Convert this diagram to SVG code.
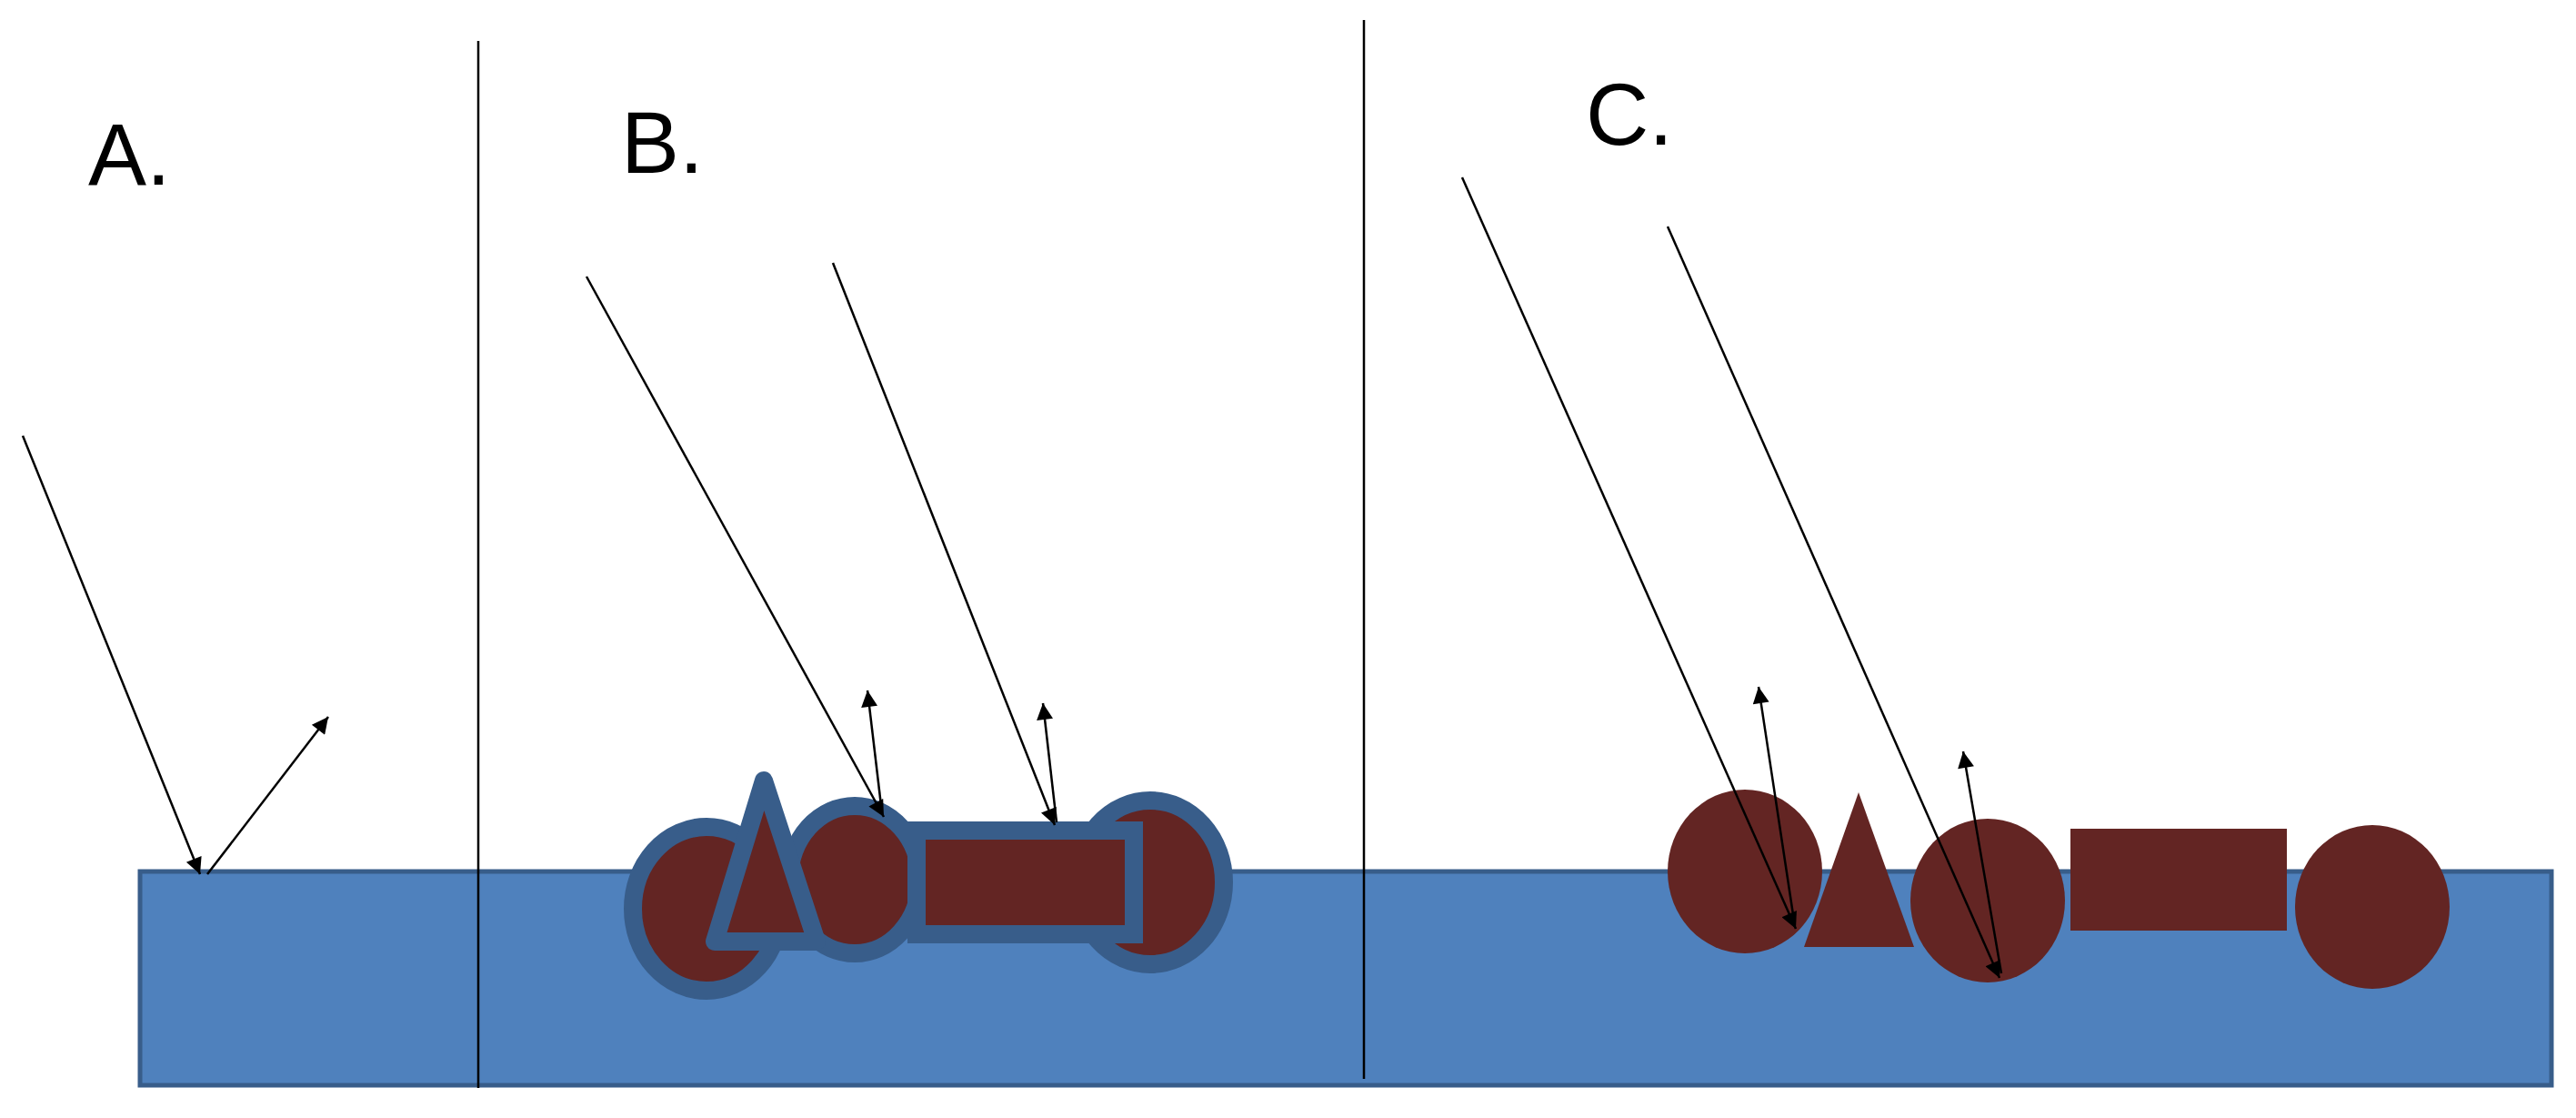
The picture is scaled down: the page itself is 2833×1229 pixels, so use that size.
<svg xmlns="http://www.w3.org/2000/svg" width="2833" height="1229" viewBox="0 0 2833 1229">
<defs>
<marker id="ah" viewBox="0 0 10 10" refX="10" refY="5" markerWidth="26" markerHeight="18" markerUnits="userSpaceOnUse" orient="auto"><path d="M0,0 L10,5 L0,10 z" fill="#000"/></marker>
<style>
.lbl{font-family:"Liberation Sans",Arial,sans-serif;font-size:96px;fill:#000}
.ray{stroke:#000;stroke-width:2.5;fill:none;marker-end:url(#ah)}
.div{stroke:#000;stroke-width:2.5}
.p{fill:#632523}
.pb{fill:#632523;stroke:#385d8a;stroke-width:20}
</style>
</defs>
<rect id="surface" x="154" y="958" width="2652" height="235" fill="#4f81bd" stroke="#385d8a" stroke-width="5"/>
<g id="dividers"><line class="div" x1="526" y1="45" x2="526" y2="1196"/><line class="div" x1="1500" y1="22" x2="1500" y2="1186"/></g>
<g id="labels"><text class="lbl" x="97" y="203">A.</text><text class="lbl" x="683" y="190">B.</text><text class="lbl" x="1744" y="159">C.</text></g>
<g id="particlesB">
<ellipse class="pb" cx="777" cy="999" rx="81" ry="90"/>
<ellipse class="pb" cx="1265" cy="970" rx="81" ry="90"/>
<ellipse class="pb" cx="940" cy="967" rx="72" ry="81"/>
<polygon class="pb" points="840,858 786,1035 898,1035" stroke-linejoin="round"/>
<rect class="pb" x="1008" y="913" width="239" height="114"/>
</g>
<g id="particlesC">
<ellipse class="p" cx="1919" cy="958" rx="85" ry="90"/>
<polygon class="p" points="2044,871 1984,1041 2105,1041"/>
<ellipse class="p" cx="2186" cy="990" rx="85" ry="90"/>
<rect class="p" x="2277" y="911" width="238" height="112"/>
<ellipse class="p" cx="2609" cy="997" rx="85" ry="90"/>
</g>
<g id="connectors">
<line class="ray" x1="25" y1="479" x2="220" y2="961"/>
<line class="ray" x1="228" y1="961" x2="361" y2="788"/>
<line class="ray" x1="645" y1="304" x2="972" y2="898"/>
<line class="ray" x1="970" y1="894" x2="954" y2="759"/>
<line class="ray" x1="916" y1="289" x2="1160" y2="907"/>
<line class="ray" x1="1162" y1="904" x2="1147" y2="773"/>
<line class="ray" x1="1608" y1="195" x2="1975" y2="1021"/>
<line class="ray" x1="1973" y1="1012" x2="1934" y2="755"/>
<line class="ray" x1="1834" y1="249" x2="2199" y2="1075"/>
<line class="ray" x1="2201" y1="1070" x2="2159" y2="826"/>
</g>
</svg>
